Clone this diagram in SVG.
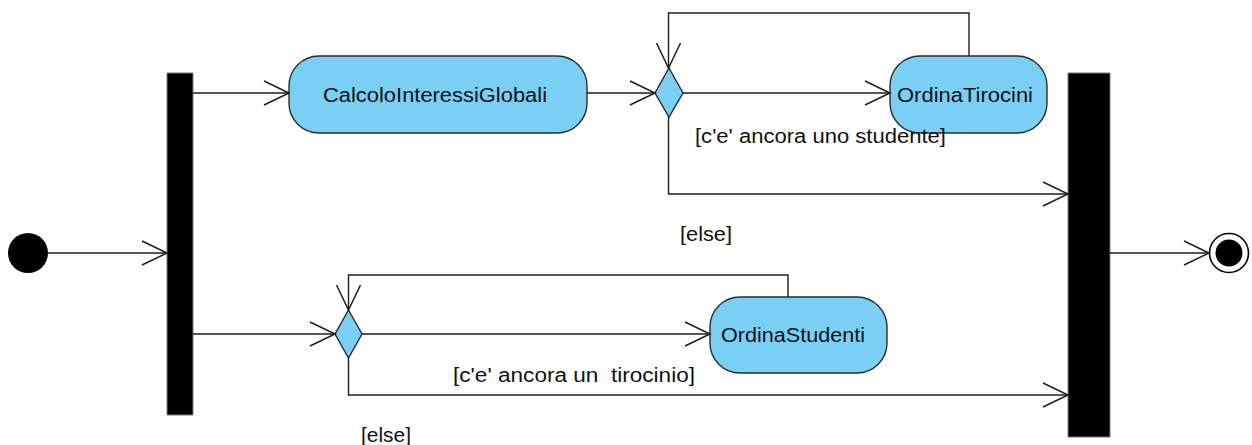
<svg xmlns="http://www.w3.org/2000/svg" width="1252" height="445" viewBox="0 0 1252 445">
  <style>
    .action { fill: #7acff5; stroke: #2b2b2b; stroke-width: 1.4; }
    .decision { fill: #7acff5; stroke: #2b2b2b; stroke-width: 1.4; }
    .bar { fill: #000; stroke: #7a7a7a; stroke-width: 1; }
    .flow { fill: none; stroke: #1e1e1e; stroke-width: 1.4; }
    .label { font-family: "Liberation Sans", Arial, sans-serif; font-size: 20px; fill: #111; }
  </style>
  <defs>
    <marker id="open-arrow" markerUnits="userSpaceOnUse" markerWidth="30" markerHeight="30" viewBox="0 0 30 30" refX="26" refY="15" orient="auto">
      <path d="M1,3 L26,15 L1,27" fill="none" stroke="#1e1e1e" stroke-width="1.5"/>
    </marker>
  </defs>

  <!-- initial node -->
  <g id="initial">
    <circle cx="28" cy="253" r="20" fill="#000"/>
  </g>

  <!-- fork bar -->
  <g id="fork">
    <rect class="bar" x="167" y="73" width="26" height="342"/>
  </g>

  <!-- actions -->
  <g id="calcoloInteressiGlobali">
    <rect class="action" x="289" y="56" width="298" height="77" rx="30" ry="30"/>
    <text class="label" x="323" y="102" textLength="224" lengthAdjust="spacingAndGlyphs">CalcoloInteressiGlobali</text>
  </g>

  <g id="decisionStudenti">
    <polygon class="decision" points="669,68 683,93 669,117 655,93"/>
  </g>

  <g id="ordinaTirocini">
    <rect class="action" x="890" y="56" width="157" height="77" rx="30" ry="30"/>
    <text class="label" x="897" y="102" textLength="136" lengthAdjust="spacingAndGlyphs">OrdinaTirocini</text>
  </g>

  <g id="decisionTirocini">
    <polygon class="decision" points="348.5,310 362,334 348.5,358 335,334"/>
  </g>

  <g id="ordinaStudenti">
    <rect class="action" x="710" y="297" width="177" height="76" rx="30" ry="30"/>
    <text class="label" x="721" y="342" textLength="144" lengthAdjust="spacingAndGlyphs">OrdinaStudenti</text>
  </g>

  <!-- join bar -->
  <g id="join">
    <rect class="bar" x="1068" y="73" width="42" height="364"/>
  </g>

  <!-- final node -->
  <g id="final">
    <circle cx="1229" cy="253" r="19.5" fill="#fff" stroke="#000" stroke-width="1.6"/>
    <circle cx="1229" cy="253" r="13.5" fill="#000"/>
  </g>

  <!-- control flows -->
  <g id="connectors">
    <line class="flow" x1="48" y1="253" x2="167" y2="253" marker-end="url(#open-arrow)"/>
    <line class="flow" x1="193" y1="93" x2="289" y2="93" marker-end="url(#open-arrow)"/>
    <line class="flow" x1="587" y1="93" x2="655" y2="93" marker-end="url(#open-arrow)"/>
    <line class="flow" x1="683" y1="93" x2="890" y2="93" marker-end="url(#open-arrow)"/>
    <polyline class="flow" points="969,56 969,13 668.5,13 668.5,68" marker-end="url(#open-arrow)"/>
    <polyline class="flow" points="668.5,117 668.5,194 1068,194" marker-end="url(#open-arrow)"/>

    <line class="flow" x1="193" y1="334" x2="335" y2="334" marker-end="url(#open-arrow)"/>
    <line class="flow" x1="362" y1="334" x2="710" y2="334" marker-end="url(#open-arrow)"/>
    <polyline class="flow" points="788,297 788,275 348.5,275 348.5,310" marker-end="url(#open-arrow)"/>
    <polyline class="flow" points="348.5,358 348.5,395 1068,395" marker-end="url(#open-arrow)"/>

    <line class="flow" x1="1110" y1="253" x2="1209" y2="253" marker-end="url(#open-arrow)"/>

    <!-- guards -->
    <text class="label" x="695" y="143" textLength="251" lengthAdjust="spacingAndGlyphs">[c'e' ancora uno studente]</text>
    <text class="label" x="680" y="241" textLength="52" lengthAdjust="spacingAndGlyphs">[else]</text>
    <text class="label" x="453" y="382" textLength="242" lengthAdjust="spacingAndGlyphs" xml:space="preserve">[c'e' ancora un  tirocinio]</text>
    <text class="label" x="361" y="442" textLength="50" lengthAdjust="spacingAndGlyphs">[else]</text>
  </g>
</svg>
